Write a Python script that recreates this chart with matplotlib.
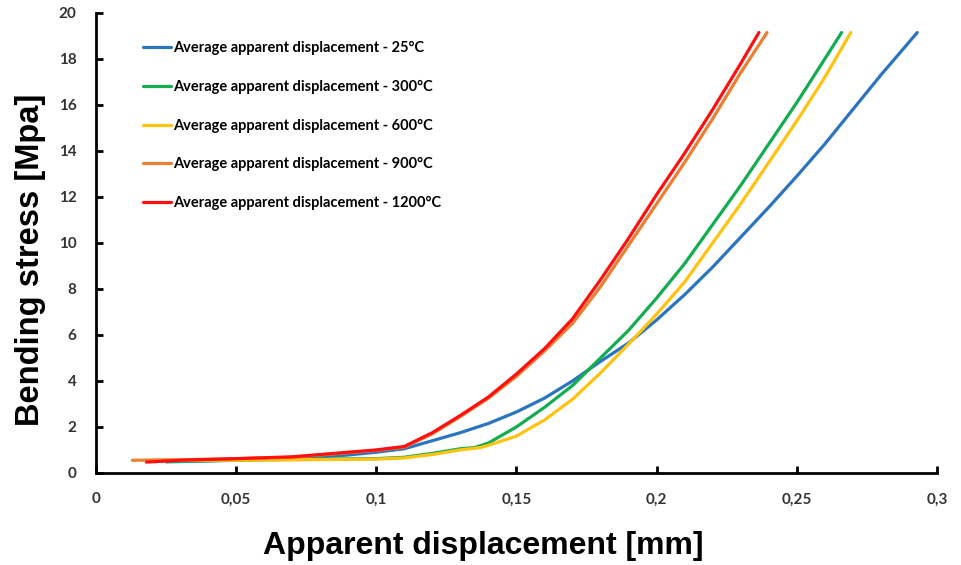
"""Bending stress vs apparent displacement at five temperatures."""
import matplotlib
matplotlib.use("Agg")
import matplotlib.pyplot as plt

# values
x_25 = [0.025, 0.05, 0.07, 0.09, 0.10, 0.11, 0.12, 0.13, 0.14, 0.15, 0.16, 0.17,
        0.18, 0.19, 0.20, 0.21, 0.22, 0.23, 0.24, 0.25, 0.26, 0.27, 0.28, 0.293]
y_25 = [0.48, 0.55, 0.62, 0.78, 0.90, 1.05, 1.40, 1.75, 2.15, 2.65, 3.25, 4.00,
        4.85, 5.65, 6.65, 7.75, 8.95, 10.25, 11.55, 12.9, 14.3, 15.8, 17.3, 19.15]

x_300 = [0.025, 0.05, 0.08, 0.10, 0.11, 0.12, 0.13, 0.135, 0.14, 0.15, 0.16, 0.17,
         0.18, 0.19, 0.20, 0.21, 0.22, 0.23, 0.24, 0.25, 0.26, 0.266]
y_300 = [0.50, 0.55, 0.60, 0.62, 0.68, 0.85, 1.05, 1.10, 1.30, 2.00, 2.85, 3.80,
         5.00, 6.20, 7.60, 9.10, 10.8, 12.5, 14.3, 16.1, 18.0, 19.15]

x_600 = [0.02, 0.05, 0.10, 0.11, 0.12, 0.13, 0.137, 0.14, 0.15, 0.16, 0.17, 0.18,
         0.19, 0.20, 0.21, 0.22, 0.23, 0.24, 0.25, 0.26, 0.2693]
y_600 = [0.55, 0.55, 0.60, 0.65, 0.80, 1.00, 1.10, 1.20, 1.60, 2.30, 3.20, 4.35,
         5.60, 6.90, 8.30, 10.0, 11.7, 13.5, 15.3, 17.2, 19.15]

x_900 = [0.013, 0.03, 0.05, 0.07, 0.09, 0.10, 0.11, 0.12, 0.13, 0.14, 0.15, 0.16,
         0.17, 0.18, 0.19, 0.20, 0.21, 0.22, 0.23, 0.2394]
y_900 = [0.55, 0.57, 0.62, 0.68, 0.88, 0.98, 1.12, 1.70, 2.45, 3.25, 4.20, 5.30,
         6.50, 8.10, 9.90, 11.7, 13.5, 15.4, 17.4, 19.15]

x_1200 = [0.018, 0.03, 0.05, 0.07, 0.09, 0.10, 0.11, 0.12, 0.13, 0.14, 0.15, 0.16,
          0.17, 0.18, 0.19, 0.20, 0.21, 0.22, 0.23, 0.2365]
y_1200 = [0.47, 0.55, 0.62, 0.70, 0.90, 1.00, 1.15, 1.75, 2.50, 3.30, 4.30, 5.40,
          6.70, 8.40, 10.2, 12.1, 13.9, 15.8, 17.8, 19.15]

labels = ["Average apparent displacement - 25°C",
          "Average apparent displacement - 300°C",
          "Average apparent displacement - 600°C",
          "Average apparent displacement - 900°C",
          "Average apparent displacement - 1200°C"]
colors = ["#2a74c0", "#12ad4f", "#ffc20e", "#ed7d31", "#ff1010"]
series = [(x_25, y_25), (x_300, y_300), (x_600, y_600), (x_900, y_900), (x_1200, y_1200)]

xticks = [0, 0.05, 0.1, 0.15, 0.2, 0.25, 0.3]
xticklabels = ["0", "0,05", "0,1", "0,15", "0,2", "0,25", "0,3"]
yticks = list(range(0, 21, 2))

fig = plt.figure(figsize=(9.61, 5.65), dpi=100)
ax = fig.add_axes([0.0999, 0.163, 0.875, 0.814])

for (xs, ys), c, lab in zip(series, colors, labels):
    ax.plot(xs, ys, color=c, lw=2.3, label=lab, solid_capstyle="round",
            solid_joinstyle="round")

ax.set_xlim(0, 0.3)
ax.set_ylim(0, 20)
ax.set_xticks(xticks)
ax.set_xticklabels(xticklabels)
ax.set_yticks(yticks)
for s in ["top", "right"]:
    ax.spines[s].set_visible(False)
for s in ["left", "bottom"]:
    ax.spines[s].set_linewidth(2)
ax.tick_params(direction="in", length=5, width=2, pad=14, labelsize=11)
for t in ax.get_xticklabels() + ax.get_yticklabels():
    t.set_fontfamily("Lato")
    t.set_fontweight("bold")
    t.set_color("#333333")

ax.set_xlabel("Apparent displacement [mm]", fontsize=23, fontweight="bold",
              family="Liberation Sans")
ax.xaxis.set_label_coords(0.461, -0.127)
ax.set_ylabel("Bending stress [Mpa]", fontsize=23.5, fontweight="bold",
              family="Liberation Sans")
ax.yaxis.set_label_coords(-0.059, 0.463)

ax.legend(loc="upper left", bbox_to_anchor=(0.040, 0.967), frameon=False,
          handlelength=1.95, handletextpad=0.1, labelspacing=1.68,
          prop={"family": "Lato", "weight": "bold", "size": 10.5})

fig.savefig("out.png", dpi=100)
